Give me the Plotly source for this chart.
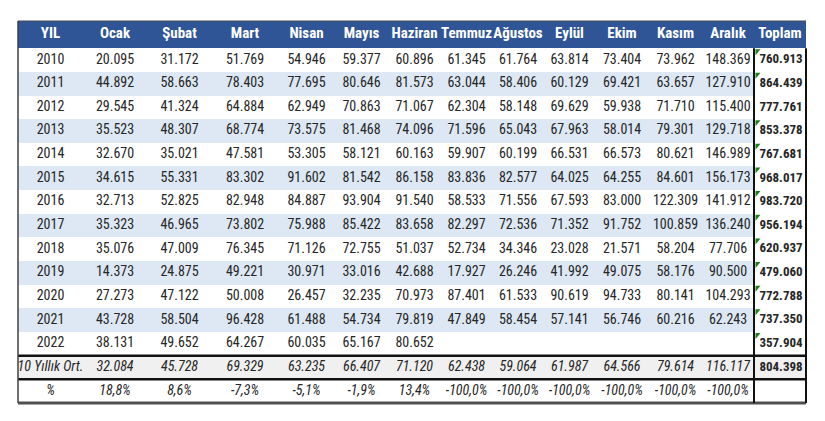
import plotly.graph_objects as go

# --- data ---
years = [2010, 2011, 2012, 2013, 2014, 2015, 2016, 2017, 2018, 2019, 2020, 2021, 2022]
months = ["Ocak", "Şubat", "Mart", "Nisan", "Mayıs", "Haziran", "Temmuz",
          "Ağustos", "Eylül", "Ekim", "Kasım", "Aralık"]

ocak = [20095, 44892, 29545, 35523, 32670, 34615, 32713, 35323, 35076, 14373, 27273, 43728, 38131]
subat = [31172, 58663, 41324, 48307, 35021, 55331, 52825, 46965, 47009, 24875, 47122, 58504, 49652]
mart = [51769, 78403, 64884, 68774, 47581, 83302, 82948, 73802, 76345, 49221, 50008, 96428, 64267]
nisan = [54946, 77695, 62949, 73575, 53305, 91602, 84887, 75988, 71126, 30971, 26457, 61488, 60035]
mayis = [59377, 80646, 70863, 81468, 58121, 81542, 93904, 85422, 72755, 33016, 32235, 54734, 65167]
haziran = [60896, 81573, 71067, 74096, 60163, 86158, 91540, 83658, 51037, 42688, 70973, 79819, 80652]
temmuz = [61345, 63044, 62304, 71596, 59907, 83836, 58533, 82297, 52734, 17927, 87401, 47849, None]
agustos = [61764, 58406, 58148, 65043, 60199, 82577, 71556, 72536, 34346, 26246, 61533, 58454, None]
eylul = [63814, 60129, 69629, 67963, 66531, 64025, 67593, 71352, 23028, 41992, 90619, 57141, None]
ekim = [73404, 69421, 59938, 58014, 66573, 64255, 83000, 91752, 21571, 49075, 94733, 56746, None]
kasim = [73962, 63657, 71710, 79301, 80621, 84601, 122309, 100859, 58204, 58176, 80141, 60216, None]
aralik = [148369, 127910, 115400, 129718, 146989, 156173, 141912, 136240, 77706, 90500, 104293, 62243, None]
toplam = [760913, 864439, 777761, 853378, 767681, 968017, 983720, 956194, 620937, 479060, 772788, 737350, 357904]

ort_10 = [32084, 45728, 69329, 63235, 66407, 71120, 62438, 59064, 61987, 64566, 79614, 116117]
ort_toplam = 804398
pct = [18.8, 8.6, -7.3, -5.1, -1.9, 13.4, -100.0, -100.0, -100.0, -100.0, -100.0, -100.0]

# rows whose Toplam cell shows Excel's green error marker
flagged = [2010, 2011, 2013, 2014, 2015, 2016, 2017, 2018, 2019, 2020, 2021, 2022]

monthly = [ocak, subat, mart, nisan, mayis, haziran, temmuz, agustos, eylul, ekim, kasim, aralik]
headers = ["YIL"] + months + ["Toplam"]


def tr_num(v):
    if v is None:
        return ""
    return f"{v:,}".replace(",", ".")


def tr_pct(v):
    return f"{v:.1f}%".replace(".", ",")


# --- cell texts, one list per row ---
rows = []
for i, y in enumerate(years):
    rows.append([str(y)] + [tr_num(m[i]) for m in monthly] + [f"<b>{tr_num(toplam[i])}</b>"])
rows.append(["<i>10 Yıllık Ort.</i>"] + [f"<i>{tr_num(a)}</i>" for a in ort_10]
            + [f"<b>{tr_num(ort_toplam)}</b>"])
rows.append(["<i>%</i>"] + [f"<i>{tr_pct(p)}</i>" for p in pct] + [""])

# --- geometry (pixel units used as axis units) ---
W, H = 825, 421
PAGE_PAD = 8  # default body margin of the html page
x0 = 18
top = 21
head_h = 27.2
row_h = 23.65
col_w = [65, 64, 65, 66, 57, 53, 53, 51, 52, 51, 54, 53, 52, 52]

x_edges = [x0]
for w in col_w:
    x_edges.append(x_edges[-1] + w)
x1 = x_edges[-1]
x_mid = [(a + b) / 2 for a, b in zip(x_edges[:-1], x_edges[1:])]

n_body = len(rows)
y_edges = [top, top + head_h]
for _ in range(n_body):
    y_edges.append(y_edges[-1] + row_h)
y_mid = [(a + b) / 2 for a, b in zip(y_edges[:-1], y_edges[1:])]
bottom = y_edges[-1]

# fill codes: 0 white, 1 light blue, 2 light gray, 3 header blue
z = [[3] * len(col_w)]
for i in range(len(years)):
    code = 1 if i % 2 == 1 else 0
    z.append([code] * (len(col_w) - 1) + [0])
z.append([2] * len(col_w))
z.append([0] * len(col_w))

HDR = "#2F5597"
BLUE_ROW = "#DDE8F4"
GRAY_ROW = "#F0F0F0"
scale = [[0, "white"], [0.1667, "white"], [0.1667, BLUE_ROW], [0.5, BLUE_ROW],
         [0.5, GRAY_ROW], [0.8333, GRAY_ROW], [0.8333, HDR], [1, HDR]]

FONT = "Roboto Condensed, DejaVu Sans Condensed, sans-serif"

fig = go.Figure()
fig.add_trace(go.Heatmap(
    x=x_edges, y=y_edges, z=z, zmin=0, zmax=3,
    colorscale=scale, showscale=False, hoverinfo="skip",
))

# header texts
fig.add_trace(go.Scatter(
    x=x_mid, y=[y_mid[0]] * len(headers), mode="text",
    text=[f"<b>{h}</b>" for h in headers],
    textfont=dict(family=FONT, size=15, color="white"),
    hoverinfo="skip",
))

# body texts
tx, ty, tt, ts = [], [], [], []
for r, row in enumerate(rows):
    for c, txt in enumerate(row):
        last = c == len(row) - 1
        tx.append(x_mid[c] + (1 if last else 0))
        ty.append(y_mid[r + 1])
        tt.append(txt)
        ts.append(13 if last else 14)
fig.add_trace(go.Scatter(
    x=tx, y=ty, mode="text", text=tt,
    textfont=dict(family=FONT, size=ts, color="#262626"),
    hoverinfo="skip",
))

shapes = []
ort_top = y_edges[1 + len(years)]
pct_top = y_edges[2 + len(years)]
tl = x_edges[-2]
body_top = y_edges[1]

# top edge of header
shapes.append(dict(type="line", xref="x", yref="y", x0=x0, x1=x1, y0=top, y1=top,
                   line=dict(color="#4A4A4A", width=1.2)))
# thick borders around the average row
for yy in [ort_top, pct_top]:
    shapes.append(dict(type="line", xref="x", yref="y", x0=x0, x1=x1, y0=yy, y1=yy,
                       line=dict(color="#111111", width=2.5)))
# bottom edge
shapes.append(dict(type="line", xref="x", yref="y", x0=x0, x1=x1, y0=bottom, y1=bottom,
                   line=dict(color="#505050", width=3)))
# left edge
shapes.append(dict(type="line", xref="x", yref="y", x0=x0, x1=x0, y0=top, y1=bottom,
                   line=dict(color="#404040", width=1.5)))
# Toplam box
for xx in [tl, x1]:
    shapes.append(dict(type="line", xref="x", yref="y", x0=xx, x1=xx, y0=body_top, y1=bottom,
                       line=dict(color="#111111", width=2)))
# green error markers
for i, y in enumerate(years):
    if y in flagged:
        yy = y_edges[1 + i] + 1
        xx = tl + 1.5
        shapes.append(dict(type="path", xref="x", yref="y",
                           path=f"M {xx} {yy} L {xx + 5} {yy} L {xx} {yy + 6} Z",
                           fillcolor="#1E7B1E", line=dict(width=0)))

fig.update_layout(
    width=W, height=H,
    margin=dict(l=0, r=0, t=0, b=0),
    paper_bgcolor="white",
    plot_bgcolor="white",
    showlegend=False,
    shapes=shapes,
    xaxis=dict(range=[PAGE_PAD, W + PAGE_PAD], visible=False, fixedrange=True),
    yaxis=dict(range=[H + PAGE_PAD, PAGE_PAD], visible=False, fixedrange=True),
)

fig.write_html("out.html")
